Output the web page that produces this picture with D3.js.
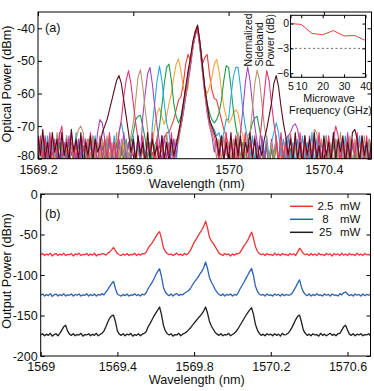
<!DOCTYPE html>
<html>
<head>
<meta charset="utf-8">
<script src="https://cdn.jsdelivr.net/npm/d3@7"></script>
<style>
  body { margin: 0; background: #fff; }
  svg { display: block; }
  text { font-family: "Liberation Sans", Arial, sans-serif; fill: #111; }
</style>
</head>
<body>
<div id="chart"></div>
<script>
// ---- (a) optical spectra, one trace per microwave frequency, sampled every 0.01 nm from 1569.2 nm
const specStart = 1569.2
const specStep = 0.01
const spec5 = [
  -78, -83, -76, -81, -77, -82, -75, -80, -78, -83,
  -76, -81, -77, -82, -75, -80, -78, -83, -76, -81,
  -77, -82, -75, -80, -78, -83, -76, -81, -77, -82,
  -75, -80, -78, -83, -76, -81, -77, -82, -75, -80,
  -78, -83, -76, -81, -77, -82, -75, -80, -78, -83,
  -79, -76, -78, -74, -72, -72, -70, -68, -65, -62,
  -61, -57, -51, -48, -50, -46, -41, -39.5, -44, -51,
  -49, -48, -54, -59, -61.5, -62, -65, -68, -71, -73,
  -76, -81, -77, -82, -75, -80, -78, -83, -76, -81,
  -77, -82, -75, -80, -78, -83, -76, -81, -77, -82,
  -75, -80, -78, -83, -76, -81, -77, -82, -75, -80,
  -78, -83, -76, -81, -77, -82, -75, -80, -78, -83,
  -76, -81, -77, -82, -75, -80, -78, -83, -76, -81,
  -77, -82, -75, -80, -78, -83, -76, -81, -77, -82,
  -75
]
const spec10 = [
  -76, -82, -77, -81, -75, -83, -78, -80, -76, -82,
  -77, -81, -75, -83, -78, -80, -76, -82, -77, -81,
  -75, -83, -78, -80, -76, -82, -77, -81, -75, -83,
  -78, -80, -76, -82, -77, -81, -75, -83, -78, -80,
  -76, -82, -77, -81, -75, -83, -78, -80, -75, -70,
  -66, -64.5, -67, -69.5, -67, -63, -60, -55, -51, -49.4,
  -53, -58, -61, -58, -51, -45, -41, -40, -45, -52,
  -58, -60, -58, -55, -51, -49.5, -53, -59, -64, -67,
  -69, -68, -66, -65, -66, -70, -73, -79, -76, -82,
  -77, -81, -75, -83, -78, -80, -76, -82, -77, -81,
  -75, -83, -78, -80, -76, -82, -77, -81, -75, -83,
  -78, -80, -76, -82, -77, -81, -75, -83, -78, -80,
  -76, -82, -77, -81, -75, -83, -78, -80, -76, -82,
  -77, -81, -75, -83, -78, -80, -76, -82, -77, -81,
  -75
]
const spec15 = [
  -81, -75, -82, -76, -80, -74, -83, -77, -81, -75,
  -82, -76, -80, -74, -83, -77, -81, -75, -82, -76,
  -80, -74, -83, -77, -81, -75, -82, -76, -80, -74,
  -83, -77, -81, -75, -82, -76, -80, -74, -81, -75,
  -72, -68, -67, -66.7, -70, -74, -80, -75, -82, -76,
  -74, -70, -64, -57, -52, -51, -56, -63, -67, -69,
  -67, -63, -59, -55, -50, -45, -41.5, -40, -45, -51,
  -58, -63, -66, -68, -69, -68, -66, -62, -56, -51.5,
  -52, -58, -65, -70, -74, -80, -75, -82, -76, -72,
  -69, -67.5, -67, -71, -75, -81, -76, -83, -77, -81,
  -75, -82, -76, -80, -74, -83, -77, -81, -75, -82,
  -76, -80, -74, -83, -77, -81, -75, -82, -76, -80,
  -74, -83, -77, -81, -75, -82, -76, -80, -74, -83,
  -77, -81, -75, -82, -76, -80, -74, -83, -77, -81,
  -75
]
const spec20 = [
  -74, -82, -75, -80, -73, -81, -76, -79, -74, -82,
  -75, -80, -73, -81, -76, -79, -72, -82, -75, -80,
  -74, -81, -76, -79, -73, -82, -75, -80, -74, -81,
  -75, -79, -73, -80, -72, -69, -73, -80, -75, -81,
  -73, -80, -76, -82, -74, -79, -75, -81, -70, -63,
  -56, -51.6, -56, -63, -69, -72, -79, -74, -81, -73,
  -70, -66, -61, -56, -51, -46, -42, -40.5, -46, -53,
  -59, -65, -68, -70, -71, -73, -72, -75, -72, -68,
  -68, -61, -55, -52, -52, -58, -65, -70, -74, -80,
  -73, -81, -75, -82, -74, -79, -73, -80, -75, -72,
  -69, -72, -79, -74, -81, -73, -80, -75, -82, -74,
  -79, -73, -81, -75, -80, -72, -82, -74, -79, -75,
  -81, -73, -80, -76, -82, -74, -79, -75, -81, -73,
  -80, -74, -82, -75, -79, -73, -81, -76, -80, -74,
  -82
]
const spec25 = [
  -81, -74, -80, -73, -82, -75, -79, -74, -81, -72,
  -80, -75, -82, -73, -79, -76, -81, -74, -80, -73,
  -79, -75, -81, -73, -80, -72, -68, -69, -74, -80,
  -73, -81, -75, -82, -74, -79, -72, -80, -75, -81,
  -74, -80, -73, -79, -67, -60, -54, -52, -57, -64,
  -70, -75, -81, -73, -80, -75, -82, -74, -79, -73,
  -70, -66, -61, -56, -52, -46, -42, -40.5, -46, -53,
  -60, -66, -70, -73, -78, -74, -81, -73, -80, -75,
  -82, -74, -79, -73, -81, -72, -65, -57, -51.8, -56,
  -63, -70, -75, -81, -73, -80, -75, -82, -74, -79,
  -73, -81, -75, -80, -74, -73, -72, -70, -69.3, -71,
  -76, -81, -73, -80, -75, -82, -74, -79, -73, -81,
  -75, -80, -74, -82, -73, -79, -75, -81, -74, -80,
  -72, -81, -75, -79, -74, -82, -73, -80, -75, -81,
  -74
]
const spec30 = [
  -76, -81, -73, -80, -75, -82, -74, -79, -72, -81,
  -75, -80, -73, -82, -76, -79, -74, -71, -70, -72,
  -79, -74, -81, -73, -80, -75, -82, -74, -79, -73,
  -81, -75, -80, -72, -82, -74, -79, -75, -81, -73,
  -69, -62, -55, -52.7, -58, -65, -71, -79, -74, -81,
  -73, -80, -75, -82, -72, -79, -76, -81, -74, -75,
  -70, -65, -60, -55, -51, -46, -42, -40.5, -46, -53,
  -60, -65, -70, -72, -75, -80, -74, -81, -73, -79,
  -75, -82, -74, -80, -72, -81, -76, -79, -73, -72,
  -65, -57, -52.8, -56, -63, -70, -74, -81, -75, -80,
  -73, -82, -75, -79, -74, -81, -72, -80, -75, -82,
  -74, -79, -73, -81, -75, -80, -71, -72, -78, -74,
  -81, -73, -80, -75, -82, -74, -79, -72, -81, -75,
  -80, -73, -82, -74, -79, -75, -81, -73, -80, -74,
  -81
]
const spec35 = [
  -80, -73, -81, -74, -79, -72, -82, -75, -78, -73,
  -70, -79, -74, -81, -72, -80, -75, -82, -73, -78,
  -74, -81, -72, -79, -75, -82, -73, -80, -74, -81,
  -72, -79, -75, -80, -72, -68, -61, -56, -53, -57,
  -63, -69, -74, -80, -73, -82, -75, -79, -72, -81,
  -74, -80, -73, -82, -75, -79, -72, -81, -75, -73,
  -69, -64, -59, -54, -50, -45, -42, -40, -45, -52,
  -59, -64, -69, -71, -73, -76, -81, -74, -80, -72,
  -82, -75, -79, -73, -81, -74, -80, -72, -82, -75,
  -79, -73, -81, -75, -68, -60, -53, -56, -63, -69,
  -74, -81, -72, -80, -75, -82, -73, -79, -74, -81,
  -72, -80, -75, -82, -73, -79, -74, -81, -72, -80,
  -75, -82, -73, -79, -74, -70, -73, -81, -75, -80,
  -73, -82, -74, -79, -72, -81, -75, -80, -73, -82,
  -76
]
const spec40 = [
  -73, -79, -71, -80, -75, -81, -72, -78, -74, -82,
  -72, -79, -75, -81, -71, -78, -74, -80, -72, -83,
  -75, -79, -73, -81, -74, -78, -76, -72, -70, -68,
  -65, -62, -59, -56, -54.5, -57, -62, -67, -72, -78,
  -74, -81, -73, -79, -75, -82, -72, -80, -74, -79,
  -76, -82, -73, -80, -75, -81, -74, -79, -76, -72,
  -68, -63, -58, -53, -49, -44, -41, -39, -44.5, -51,
  -58, -63, -68, -70, -72, -74, -79, -73, -81, -75,
  -80, -72, -82, -74, -79, -73, -81, -75, -78, -72,
  -80, -74, -81, -76, -79, -74, -71, -67, -63, -57,
  -54.5, -58, -64, -69, -73, -79, -74, -81, -72, -80,
  -75, -82, -73, -79, -74, -81, -72, -80, -76, -83,
  -73, -79, -75, -81, -72, -80, -74, -78, -73, -82,
  -75, -80, -72, -71, -74, -81, -73, -79, -75, -82,
  -74
]
const spectra = [spec5, spec10, spec15, spec20, spec25, spec30, spec35, spec40]
const specColors = ['#ef3a3c', '#f7a43b', '#1b9e4b', '#29aae1', '#a446bf', '#b8936e', '#e8336d', '#5a0b1c']

// inset: normalized sideband power vs microwave frequency
const sidebandGHz = [5, 10, 15, 20, 25, 30, 35, 40]
const sidebandPower = [0, -0.1, -1.2, -1.35, -0.85, -1.5, -1.45, -2.05]
const sidebandLimit = -3

// ---- (b) output spectra for three pump powers, sampled every 0.01 nm from 1569.0 nm
const outStart = 1569.0
const outStep = 0.01
const out2p5mW = [
  -75, -73.5, -76, -74, -75.5, -73, -76.5, -74.5, -73.5, -76,
  -74, -75.5, -73, -76, -74.5, -75, -73.5, -76.5, -74, -75,
  -73, -76, -74.5, -75, -73.5, -76, -74, -75.5, -73, -76.5,
  -74.5, -75, -73.5, -74, -75.5, -73, -71.5, -69, -66, -70,
  -73.5, -75, -76, -74, -75.5, -73.5, -76, -74.5, -75, -73,
  -76, -74, -75.5, -73.5, -74, -72, -67, -63.5, -61, -57,
  -53, -49, -46.4, -55, -66, -71, -73.5, -75, -74, -76,
  -74.5, -73, -75.5, -74, -76, -73.5, -75, -73, -70, -65,
  -60, -56, -52, -48, -44.5, -40, -33.5, -42, -53, -58,
  -61, -65, -69, -73, -74.5, -76, -73.5, -75, -74, -76.5,
  -74, -75.5, -73.5, -74, -72, -68, -64, -61, -57, -52,
  -47, -55, -65, -70.5, -73.5, -75, -74, -76, -73.5, -75,
  -74.5, -76, -73, -75.5, -74, -76, -73.5, -75, -74.5, -76,
  -73.5, -75, -74, -76, -71.5, -67, -70, -73.5, -75, -74,
  -76, -73.5, -75.5, -74, -76, -73, -75, -74.5, -76, -73.5,
  -75, -74, -76.5, -73.5, -75, -74, -76, -73, -75.5, -74,
  -76, -73.5, -75, -74.5, -76, -73, -75.5, -74, -76, -73.5,
  -75, -74.5, -76
]
const out8mW = [
  -125, -123.5, -126, -124, -125.5, -123, -126.5, -124.5, -123.5, -126,
  -124, -125.5, -123, -126, -124.5, -125, -123.5, -126, -124, -125,
  -123.5, -126, -124.5, -125, -123, -126, -124, -125.5, -123.5, -126,
  -124, -125, -123, -124.5, -121, -118, -114, -110.5, -108, -117,
  -123.5, -125, -126, -124, -125.5, -123.5, -126, -124.5, -125, -123,
  -125.5, -124, -126, -123.5, -124.5, -122, -117, -113, -109.5, -105,
  -100, -95.5, -92.3, -102, -115, -121, -124, -125.5, -123.5, -126,
  -124, -123, -125.5, -124, -124.5, -122.5, -121, -119.5, -117, -113,
  -109, -106, -103, -99, -95.5, -91, -84, -92, -103, -109,
  -113, -118, -121.5, -124, -125.5, -123.5, -126, -124, -125, -123.5,
  -126, -124, -125, -122, -117, -113, -109, -104.5, -100, -95.5,
  -92, -101, -114, -120, -123.5, -125, -124, -126, -123.5, -125,
  -124.5, -126, -123.5, -125, -124, -126, -123.5, -125.5, -124, -125,
  -124.5, -123, -119, -115, -110, -106, -115, -121, -124, -125.5,
  -123.5, -126, -124, -125.5, -123, -125, -124.5, -126, -123.5, -125,
  -124, -126, -123.5, -125, -124.5, -126, -123, -124.5, -122, -121,
  -123.5, -125.5, -124, -126, -123.5, -125, -124, -126, -123.5, -125.5,
  -124, -125, -123.5
]
const out25mW = [
  -174, -172.5, -175, -173, -174.5, -172, -175.5, -173.5, -172.5, -175,
  -172, -168, -164, -162, -169, -173, -174.5, -172.5, -175, -173.5,
  -174, -172, -175.5, -173.5, -174, -172.5, -175, -173, -174.5, -172,
  -175, -173.5, -172, -169, -164, -158, -153, -150.5, -149.5, -158,
  -169, -173, -174.5, -172.5, -175, -173, -174, -172, -175.5, -173.5,
  -174.5, -172.5, -175, -173, -172, -170, -164, -160, -155.5, -151,
  -147, -143.5, -139.5, -149, -162, -169, -172.5, -174, -172.5, -175.5,
  -173.5, -174, -172, -175, -173, -172, -170.5, -168, -165.5, -162.5,
  -159.5, -156.5, -153.5, -151, -148, -144.5, -139.5, -147, -157, -163,
  -167, -171, -173, -174.5, -172.5, -175, -173.5, -174, -172, -175,
  -173.5, -172, -169.5, -166, -162, -158, -154, -150, -146.5, -143,
  -140.5, -149, -161, -168, -172, -174.5, -173, -175, -172.5, -174,
  -173, -175, -172.5, -174.5, -173, -175.5, -172, -174, -173.5, -172,
  -169, -165, -160, -155, -151, -149.5, -158, -168, -172, -174.5,
  -173, -175, -172.5, -174, -173.5, -175.5, -172, -174.5, -173, -175,
  -173.5, -172, -174.5, -173, -175, -172.5, -172, -168, -164, -162,
  -168, -173, -174.5, -172.5, -175, -173, -174, -172.5, -175, -173.5,
  -174, -172.5, -175
]
const outputs = [out2p5mW, out8mW, out25mW]
const pumpPower = ['2.5', '8', '25']
const outColors = ['#ee3434', '#2a62b6', '#1e1e1e']

// tick values
const aXTicks = [1569.2, 1569.6, 1570, 1570.4]
const aYTicks = [-80, -70, -60, -50, -40]
const insetXTicks = [5, 10, 20, 30, 40]
const insetYTicks = [-6, -3, 0]
const bXTicks = [1569, 1569.4, 1569.8, 1570.2, 1570.6]
const bYTicks = [-200, -150, -100, -50, 0]

const width = 374
const height = 391
const svg = d3.select('#chart').append('svg')
  .attr('width', width)
  .attr('height', height)

const tickFont = '12.5px'
const labelFont = '12.7px'

function frame(g, x, y) {
  const [x0, x1] = x.range()
  const [y0, y1] = y.range()
  g.append('rect')
    .attr('x', x0).attr('y', y1)
    .attr('width', x1 - x0).attr('height', y0 - y1)
    .attr('fill', 'none').attr('stroke', '#000').attr('stroke-width', 1)
}

function axes(g, x, y, xt, yt, opts) {
  const tl = opts.tick || 4
  const fs = opts.font || tickFont
  const [x0, x1] = x.range()
  const [y0, y1] = y.range()
  const bottom = g.append('g').attr('transform', `translate(0,${y0})`)
    .call(d3.axisBottom(x).tickValues(xt).tickSize(-tl).tickPadding(opts.xpad || 7).tickFormat(opts.xf || (d => String(d))))
  const left = g.append('g').attr('transform', `translate(${x0},0)`)
    .call(d3.axisLeft(y).tickValues(yt).tickSize(-tl).tickPadding(opts.ypad || 3).tickFormat(opts.yf || (d => String(d))))
  const topA = g.append('g').attr('transform', `translate(0,${y1})`)
    .call(d3.axisTop(x).tickValues(xt).tickSize(-tl).tickFormat(''))
  const right = g.append('g').attr('transform', `translate(${x1},0)`)
    .call(d3.axisRight(y).tickValues(yt).tickSize(-tl).tickFormat(''))
  ;[bottom, left, topA, right].forEach(a => {
    a.select('.domain').remove()
    a.selectAll('line').attr('stroke', '#000')
    a.selectAll('text').style('font-size', fs).attr('fill', '#111')
      .style('font-family', '"Liberation Sans", Arial, sans-serif')
  })
  frame(g, x, y)
  return { bottom, left }
}

// ================= panel (a) =================
const xA = d3.scaleLinear().domain([1569.2, 1570.6]).range([38, 371.5])
const yA = d3.scaleLinear().domain([-80, -35]).range([158.7, 12])

svg.append('clipPath').attr('id', 'clipA')
  .append('rect').attr('x', 38).attr('y', 12).attr('width', 333.5).attr('height', 146.7)

const gA = svg.append('g')
const lineA = d3.line()
  .x((d, i) => xA(specStart + i * specStep))
  .y(d => yA(d))

gA.append('g').attr('clip-path', 'url(#clipA)')
  .selectAll('path')
  .data(spectra)
  .join('path')
  .attr('d', lineA)
  .attr('fill', 'none')
  .attr('stroke', (d, i) => specColors[i])
  .attr('stroke-width', 1.1)
  .attr('stroke-linejoin', 'round')

const axA = axes(gA, xA, yA, aXTicks, aYTicks, { xpad: 6.3 })
// the lowest label sits a little above its tick, as in the source figure
axA.left.selectAll('.tick').filter(d => d === -80).select('text').attr('y', -3)

gA.append('text').attr('x', 45).attr('y', 32).style('font-size', labelFont).text('(a)')
gA.append('text').attr('x', 196.7).attr('y', 187.6).attr('text-anchor', 'middle')
  .style('font-size', labelFont).text('Wavelength (nm)')
gA.append('text').attr('transform', 'translate(10.5,84) rotate(-90)').attr('text-anchor', 'middle')
  .style('font-size', labelFont).text('Optical Power (dBm)')

// inset
const xI = d3.scaleLinear().domain([5, 40]).range([290.5, 365.5])
const yI = d3.scaleLinear().domain([-6.5, 1]).range([77.3, 15.3])
const gI = svg.append('g')
gI.append('rect').attr('x', 290.5).attr('y', 15.3).attr('width', 75).attr('height', 62).attr('fill', '#fff')
gI.append('line')
  .attr('x1', xI(5)).attr('x2', xI(40))
  .attr('y1', yI(sidebandLimit)).attr('y2', yI(sidebandLimit))
  .attr('stroke', '#666').attr('stroke-width', 1).attr('stroke-dasharray', '2,2.5')
gI.append('path')
  .datum(sidebandGHz.map((f, i) => [f, sidebandPower[i]]))
  .attr('d', d3.line().x(d => xI(d[0])).y(d => yI(d[1])))
  .attr('fill', 'none').attr('stroke', '#ef3b3b').attr('stroke-width', 1)
axes(gI, xI, yI, insetXTicks, insetYTicks, {
  tick: 3, font: '10.5px', xpad: 5, ypad: 1.5,
  yf: d => (d < 0 ? '\u2212' + Math.abs(d) : String(d))
})
const insetLabels = ['Normalized', 'Sideband', 'Power (dB)']
insetLabels.forEach((t, i) => {
  gI.append('text').attr('transform', `translate(${252 + i * 11},66.5) rotate(-90)`)
    .style('font-size', '10.5px').text(t)
})
gI.append('text').attr('x', 329).attr('y', 102).attr('text-anchor', 'middle').style('font-size', '10.8px').text('Microwave')
gI.append('text').attr('x', 330.5).attr('y', 114).attr('text-anchor', 'middle').style('font-size', '10.8px').text('Frequency (GHz)')

// ================= panel (b) =================
const xB = d3.scaleLinear().domain([1569, 1570.72]).range([40.7, 370.5])
const yB = d3.scaleLinear().domain([-200, 0]).range([356, 194])

svg.append('clipPath').attr('id', 'clipB')
  .append('rect').attr('x', 40.7).attr('y', 194).attr('width', 329.8).attr('height', 162)

const gB = svg.append('g')
const lineB = d3.line()
  .x((d, i) => xB(outStart + i * outStep))
  .y(d => yB(d))

gB.append('g').attr('clip-path', 'url(#clipB)')
  .selectAll('path')
  .data(outputs)
  .join('path')
  .attr('d', lineB)
  .attr('fill', 'none')
  .attr('stroke', (d, i) => outColors[i])
  .attr('stroke-width', 1.3)
  .attr('stroke-linejoin', 'round')

axes(gB, xB, yB, bXTicks, bYTicks, { ypad: 3, xpad: 6.5 })

gB.append('text').attr('x', 45).attr('y', 218).style('font-size', labelFont).text('(b)')
gB.append('text').attr('x', 196.7).attr('y', 384).attr('text-anchor', 'middle')
  .style('font-size', labelFont).text('Wavelength (nm)')
gB.append('text').attr('transform', 'translate(10.5,271) rotate(-90)').attr('text-anchor', 'middle')
  .style('font-size', labelFont).text('Output Power (dBm)')

// legend
const leg = gB.append('g')
pumpPower.forEach((p, i) => {
  const yy = 206.3 + i * 13
  leg.append('line').attr('x1', 290).attr('x2', 313).attr('y1', yy).attr('y2', yy)
    .attr('stroke', outColors[i]).attr('stroke-width', 1.5)
  leg.append('text').attr('x', 325.5).attr('y', yy + 4.1).attr('text-anchor', 'middle')
    .style('font-size', '11.5px').text(p)
  leg.append('text').attr('x', 340).attr('y', yy + 4.1)
    .style('font-size', '11.5px').text('mW')
})
</script>
</body>
</html>
